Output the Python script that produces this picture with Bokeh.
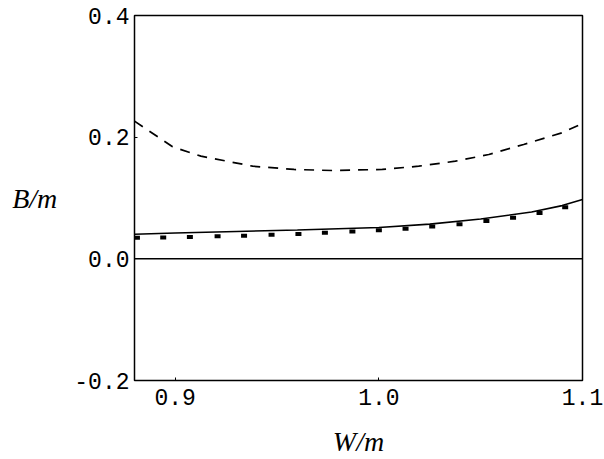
from bokeh.plotting import figure
from bokeh.models import Range1d, FixedTicker, PrintfTickFormatter, Span
from bokeh.embed import file_html
from bokeh.resources import INLINE

# Data
dashed_x = [0.88, 0.8987, 0.9126, 0.938, 0.9583, 0.9772, 1.0017, 1.0196, 1.0376, 1.054, 1.0711, 1.0899, 1.1]
dashed_y = [0.2263, 0.1842, 0.1688, 0.1523, 0.1469, 0.1452, 0.1469, 0.1523, 0.1605, 0.1715, 0.188, 0.2072, 0.2225]

solid_x = [0.88, 0.90, 0.93, 0.96, 1.0, 1.025, 1.05, 1.075, 1.09, 1.1]
solid_y = [0.0405, 0.0425, 0.045, 0.0475, 0.0515, 0.057, 0.0655, 0.077, 0.0875, 0.0975]

dots_x = [0.8812, 0.8941, 0.9072, 0.9208, 0.9338, 0.9473, 0.9605, 0.9735, 0.987, 1.0,
          1.0131, 1.0262, 1.0396, 1.0528, 1.0659, 1.0789, 1.0915]
dots_y = [0.0345, 0.035, 0.036, 0.037, 0.038, 0.0395, 0.041, 0.043, 0.045, 0.047,
          0.0495, 0.053, 0.057, 0.062, 0.0675, 0.0755, 0.085]

x_ticks = [0.9, 1.0, 1.1]
y_ticks = [-0.2, 0.0, 0.2, 0.4]

p = figure(width=604, height=459, output_backend="svg", toolbar_location=None,
           x_range=Range1d(0.88, 1.1), y_range=Range1d(-0.2, 0.4),
           min_border_left=134, min_border_right=22, min_border_top=15, min_border_bottom=79)
p.background_fill_color = "white"
p.border_fill_color = "white"
p.outline_line_color = "black"
p.outline_line_width = 1.5
p.grid.visible = False

for ax, ticks in ((p.xaxis[0], x_ticks), (p.yaxis[0], y_ticks)):
    ax.ticker = FixedTicker(ticks=ticks)
    ax.formatter = PrintfTickFormatter(format="%.1f")
    ax.axis_line_color = None
    ax.major_tick_in = 3
    ax.major_tick_out = 0
    ax.major_tick_line_color = "black"
    ax.minor_tick_line_color = None
    ax.major_label_text_font = "Liberation Mono"
    ax.major_label_text_font_size = "23px"
    ax.major_label_text_color = "black"
    ax.axis_label_text_font = "Liberation Serif"
    ax.axis_label_text_font_style = "italic"
    ax.axis_label_text_font_size = "28px"
    ax.axis_label_text_color = "black"
    ax.axis_label_text_line_height = 1.0
p.xaxis.major_label_standoff = 8
p.yaxis.major_label_standoff = 5
p.xaxis.axis_label = "W/m"
p.xaxis.axis_label_standoff = 18
p.yaxis.axis_label = "B/m"
p.yaxis.axis_label_orientation = "horizontal"
p.yaxis.axis_label_standoff = 14

p.add_layout(Span(location=0, dimension="width", line_color="black", line_width=1.5))

p.line(dashed_x, dashed_y, line_color="black", line_width=1.7, line_dash="10 8")
p.line(solid_x, solid_y, line_color="black", line_width=1.6)
p.rect(dots_x, dots_y, width=6, height=4, width_units="screen", height_units="screen",
       fill_color="black", line_color=None)

open("out.html", "w").write(file_html(p, INLINE))
